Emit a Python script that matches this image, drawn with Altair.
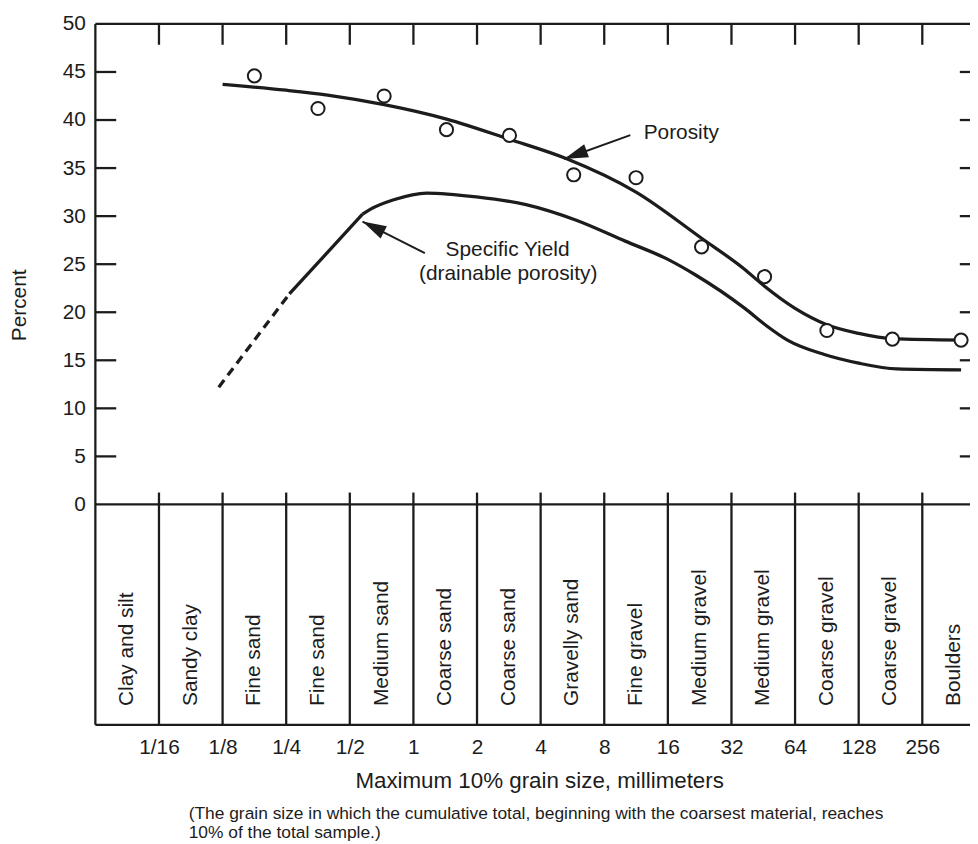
import altair as alt
import pandas as pd

# ---------------- data ----------------
# x is log2(grain size in mm): -4 = 1/16 mm ... 8 = 256 mm
tick_values = [-4, -3, -2, -1, 0, 1, 2, 3, 4, 5, 6, 7, 8]
tick_labels = ["1/16", "1/8", "1/4", "1/2", "1", "2", "4", "8", "16", "32", "64", "128", "256"]

categories = ["Clay and silt", "Sandy clay", "Fine sand", "Fine sand", "Medium sand",
              "Coarse sand", "Coarse sand", "Gravelly sand", "Fine gravel", "Medium gravel",
              "Medium gravel", "Coarse gravel", "Coarse gravel", "Boulders"]
category_x = [-4.5, -3.5, -2.5, -1.5, -0.5, 0.5, 1.5, 2.5, 3.5, 4.5, 5.5, 6.5, 7.5, 8.5]

y_ticks = [0, 5, 10, 15, 20, 25, 30, 35, 40, 45, 50]

# observed porosity (circles)
obs_x = [-2.5, -1.5, -0.46, 0.52, 1.51, 2.52, 3.50, 4.53, 5.52, 6.50, 7.53, 8.61]
obs_porosity = [44.6, 41.2, 42.5, 39.0, 38.4, 34.3, 34.0, 26.8, 23.7, 18.1, 17.2, 17.1]

# fitted porosity curve
por_x = [-3.0, -2.0, -1.35, -0.46, 0.52, 1.51, 2.4, 3.5, 4.53, 5.2, 5.52, 6.0, 6.5, 7.0, 7.53, 8.61]
por_y = [43.7, 43.1, 42.6, 41.6, 40.1, 38.0, 36.0, 32.5, 27.7, 24.5, 22.7, 20.4, 18.7, 17.8, 17.25, 17.1]

# specific yield: dashed (uncertain) part, straight part, smooth part
sy_dash_x = [-3.06, -1.95]
sy_dash_y = [12.2, 21.9]
sy_straight_x = [-1.95, -0.80]
sy_straight_y = [21.9, 30.2]
sy_curve_x = [-0.80, -0.68, -0.31, 0.21, 0.99, 1.77, 2.55, 3.33, 4.0, 4.43, 5.21, 5.55, 5.88, 6.46, 7.0, 7.6, 8.61]
sy_curve_y = [30.2, 30.7, 31.7, 32.4, 32.0, 31.2, 29.6, 27.4, 25.5, 23.9, 20.4, 18.6, 17.1, 15.6, 14.7, 14.1, 14.0]

# annotations
arrow_tip_x = [2.37, -0.80]
arrow_tip_y = [35.95, 29.44]
arrow_tail_x = [3.41, 0.18]
arrow_tail_y = [38.43, 26.14]
arrow_angle = [250, 297]

note_text = ["Porosity", "Specific Yield", "(drainable porosity)"]
note_x = [3.62, 1.48, 1.49]
note_y = [38.64, 26.45, 23.97]
note_align = ["left", "center", "center"]

footnote = ["(The grain size in which the cumulative total, beginning with the coarsest material, reaches",
            "10% of the total sample.)"]

# ---------------- scales / axes ----------------
X_MIN, X_MAX = -5.0, 8.75
Y_MIN, Y_MAX = -22.93, 50.0
INK = "#1c1c1c"
FONT = "Liberation Sans"

xs = alt.Scale(domain=[X_MIN, X_MAX], nice=False, zero=False)
ys = alt.Scale(domain=[Y_MIN, Y_MAX], nice=False, zero=False)

label_map = "{" + ",".join(f"'{v}':'{l}'" for v, l in zip(tick_values, tick_labels)) + "}"

x_axis = alt.Axis(values=tick_values, labelExpr=f"{label_map}[datum.value]", orient="bottom",
                  domain=False, ticks=False, grid=False, labelFontSize=21, labelPadding=12,
                  labelColor=INK, labelFont=FONT,
                  title="Maximum 10% grain size, millimeters", titleFontSize=22.5,
                  titleFontWeight="normal", titleColor=INK, titleFont=FONT,
                  titleX=447, titleY=56, titleBaseline="middle", titleAlign="center")
y_axis = alt.Axis(values=y_ticks, orient="left", domain=False, ticks=False, grid=False,
                  labelFontSize=21, labelPadding=10, labelColor=INK, labelFont=FONT,
                  title="Percent", titleFontSize=21, titleFontWeight="normal", titleColor=INK,
                  titleFont=FONT, titleAngle=270, titleX=-76, titleY=283,
                  titleBaseline="middle", titleAlign="center")


def X(f):
    return alt.X(f, type="quantitative", scale=xs, axis=x_axis)


def Y(f):
    return alt.Y(f, type="quantitative", scale=ys, axis=y_axis)


# ---------------- frame / table lines ----------------
rows = []
for yv in [Y_MAX, 0.0, Y_MIN]:
    rows.append(dict(x=X_MIN, x2=X_MAX, y=yv, y2=yv))
rows.append(dict(x=X_MIN, x2=X_MIN, y=Y_MIN, y2=Y_MAX))
for xv in tick_values:
    rows.append(dict(x=xv, x2=xv, y=Y_MIN, y2=1.24))        # table column dividers
    rows.append(dict(x=xv, x2=xv, y=Y_MAX - 2.17, y2=Y_MAX))  # inner top ticks
for yv in y_ticks[1:-1]:
    rows.append(dict(x=X_MIN, x2=X_MIN + 0.328, y=yv, y2=yv))  # inner left ticks
    rows.append(dict(x=8.59, x2=X_MAX, y=yv, y2=yv))          # inner right ticks
frame_df = pd.DataFrame(rows)

frame = alt.Chart(frame_df).mark_rule(color=INK, strokeWidth=2.3).encode(
    x=X("x"), x2="x2", y=Y("y"), y2="y2")

cat_df = pd.DataFrame({"x": category_x, "label": categories, "y": [-20.97] * len(categories)})
cats = alt.Chart(cat_df).mark_text(angle=270, align="left", baseline="middle", fontSize=21,
                                   font=FONT, color=INK).encode(x=X("x"), y=Y("y"), text="label:N")

# ---------------- curves ----------------
por_df = pd.DataFrame({"x": por_x, "y": por_y})
por_line = alt.Chart(por_df).mark_line(color=INK, strokeWidth=3.3, interpolate="monotone").encode(
    x=X("x"), y=Y("y"))

sy_dash = alt.Chart(pd.DataFrame({"x": sy_dash_x, "y": sy_dash_y})).mark_line(
    color=INK, strokeWidth=3.3, strokeDash=[9, 6]).encode(x=X("x"), y=Y("y"))
sy_straight = alt.Chart(pd.DataFrame({"x": sy_straight_x, "y": sy_straight_y})).mark_line(
    color=INK, strokeWidth=3.3).encode(x=X("x"), y=Y("y"))
sy_curve = alt.Chart(pd.DataFrame({"x": sy_curve_x, "y": sy_curve_y})).mark_line(
    color=INK, strokeWidth=3.3, interpolate="monotone").encode(x=X("x"), y=Y("y"))

obs_df = pd.DataFrame({"x": obs_x, "y": obs_porosity})
obs = alt.Chart(obs_df).mark_point(shape="circle", filled=True, fill="white", stroke=INK,
                                   strokeWidth=2, size=175, opacity=1).encode(x=X("x"), y=Y("y"))

# ---------------- annotations ----------------
arr_df = pd.DataFrame({"x": arrow_tail_x, "y": arrow_tail_y, "x2": arrow_tip_x, "y2": arrow_tip_y,
                       "tx": arrow_tip_x, "ty": arrow_tip_y, "angle": arrow_angle})
arr_lines = alt.Chart(arr_df).mark_rule(color=INK, strokeWidth=2).encode(
    x=X("x"), y=Y("y"), x2="x2", y2="y2")
arr_heads = alt.Chart(arr_df).mark_point(shape="M0,0L0.29,1L-0.29,1Z", filled=True, fill=INK,
                                         strokeWidth=0, size=2304, opacity=1).encode(
    x=X("tx"), y=Y("ty"), angle=alt.Angle("angle:Q", scale=None))

note_df = pd.DataFrame({"x": note_x, "y": note_y, "t": note_text, "a": note_align})
notes_left = alt.Chart(note_df[note_df.a == "left"]).mark_text(
    align="left", baseline="middle", fontSize=21, font=FONT, color=INK).encode(
    x=X("x"), y=Y("y"), text="t:N")
notes_center = alt.Chart(note_df[note_df.a == "center"]).mark_text(
    align="center", baseline="middle", fontSize=21, font=FONT, color=INK).encode(
    x=X("x"), y=Y("y"), text="t:N")

chart = alt.layer(
    frame, cats, por_line, sy_dash, sy_straight, sy_curve, obs,
    arr_lines, arr_heads, notes_left, notes_center
).properties(
    width=881, height=706,
    autosize=alt.AutoSizeParams(type="none"),
    padding={"left": 88, "top": 13, "right": 0, "bottom": 116},
    background="white",
    title=alt.TitleParams(text=footnote, orient="bottom", anchor="start", frame="group",
                          fontSize=17.5, fontWeight="normal", font=FONT, color=INK, dx=94,
                          offset=13, lineHeight=19.5),
).configure_view(stroke=None)

chart.save("out.html", embed_options={"renderer": "svg", "actions": False})
